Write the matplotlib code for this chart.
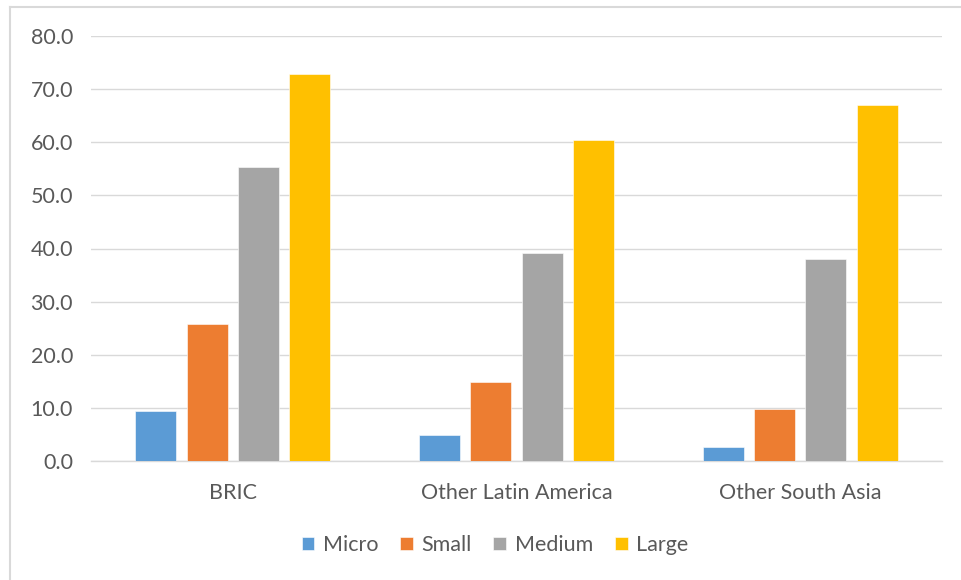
import matplotlib
matplotlib.use("Agg")
import matplotlib.pyplot as plt
from matplotlib.lines import Line2D
import numpy as np

categories = ["BRIC", "Other Latin America", "Other South Asia"]
series_names = ["Micro", "Small", "Medium", "Large"]
micro = [9.5, 4.9, 2.7]
small = [25.7, 14.8, 9.7]
medium = [55.3, 39.2, 38.0]
large = [72.8, 60.5, 67.0]
yticks = [0, 10, 20, 30, 40, 50, 60, 70, 80]

colors = ["#5B9BD5", "#ED7D31", "#A5A5A5", "#FFC000"]
text_color = "#595959"

plt.rcParams['font.family'] = ['Lato', 'DejaVu Sans']
FS = 15.5

W, H = 961, 580
fig = plt.figure(figsize=(W / 100, H / 100), dpi=100)
ax = fig.add_axes([91 / W, 1 - 461 / H, (942 - 91) / W, (461 - 36) / H])

x = np.arange(len(categories))
width = 0.144
step = 0.181
data = [micro, small, medium, large]
for i, (name, vals) in enumerate(zip(series_names, data)):
    off = (i - 1.5) * step
    ax.bar(x + off, vals, width, color=colors[i], label=name, zorder=3,
           edgecolor="white", linewidth=0.4)

ax.set_xlim(-0.5, 2.5)
ax.set_ylim(0, 80)
ax.set_yticks(yticks)
ax.set_yticklabels([f"{v:.1f}" for v in yticks], fontsize=FS, color=text_color)
ax.set_xticks(x)
ax.set_xticklabels(categories, fontsize=FS, color=text_color)
ax.tick_params(axis='both', length=0)
ax.tick_params(axis='y', pad=13)
ax.tick_params(axis='x', pad=16)
ax.grid(axis='y', color="#D9D9D9", linewidth=1, zorder=0)
for s in ["top", "right", "left"]:
    ax.spines[s].set_visible(False)
ax.spines["bottom"].set_color("#D9D9D9")
ax.spines["bottom"].set_linewidth(1)

leg = fig.legend(loc="center", bbox_to_anchor=(495 / W, 1 - 545 / H), ncol=4,
                 frameon=False, fontsize=FS, handlelength=0.6, handleheight=0.6,
                 handletextpad=0.4, columnspacing=1.0)
for t in leg.get_texts():
    t.set_color(text_color)

# figure border (left and top)
fig.add_artist(Line2D([10 / W, 10 / W], [0, 1 - 7 / H], transform=fig.transFigure,
                      color="#D9D9D9", linewidth=1.5))
fig.add_artist(Line2D([10 / W, 1], [1 - 7 / H, 1 - 7 / H], transform=fig.transFigure,
                      color="#D9D9D9", linewidth=1.5))

fig.savefig("out.png", dpi=100)
